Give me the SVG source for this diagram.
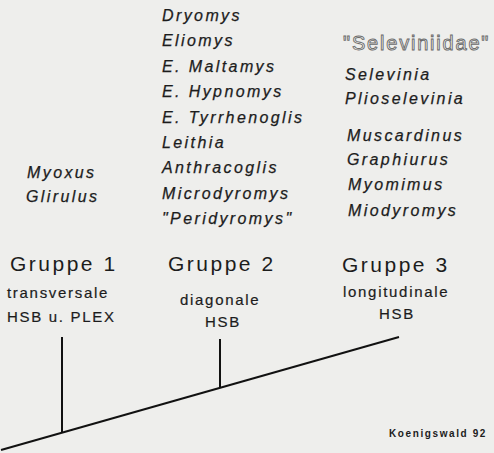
<svg xmlns="http://www.w3.org/2000/svg" width="494" height="453" viewBox="0 0 494 453">
<style>
text{font-family:"Liberation Sans",Arial,sans-serif;fill:#1c1c1c}
.tx{font-size:16px;font-style:italic;letter-spacing:2.4px;stroke:#1c1c1c;stroke-width:0.25px}
.gr{font-size:21px;letter-spacing:2.5px}
.sub{font-size:15px;letter-spacing:1.7px;stroke:#1c1c1c;stroke-width:0.2px}
.out{font-size:20px;letter-spacing:1.8px;fill:#f4f4f2;stroke:#6a6a6a;stroke-width:0.9px}
.cr{font-size:10px;font-weight:bold;letter-spacing:1.6px}
.ln{stroke:#111;stroke-width:2;fill:none;stroke-linecap:butt}
</style>
<rect width="494" height="453" fill="#eeeeec"/>
<g id="connectors">
<line class="ln" x1="1" y1="450" x2="399" y2="337"/>
<line class="ln" x1="62" y1="337" x2="62" y2="433"/>
<line class="ln" x1="220" y1="339" x2="220" y2="388"/>
</g>
<g id="taxa1">
<text class="tx" x="27" y="178">Myoxus</text>
<text class="tx" x="26" y="202">Glirulus</text>
</g>
<g id="taxa2">
<text class="tx" x="162" y="21">Dryomys</text>
<text class="tx" x="162" y="46.4">Eliomys</text>
<text class="tx" x="162" y="71.8">E. Maltamys</text>
<text class="tx" x="162" y="97.2">E. Hypnomys</text>
<text class="tx" x="162" y="122.6">E. Tyrrhenoglis</text>
<text class="tx" x="162" y="148">Leithia</text>
<text class="tx" x="162" y="173.4">Anthracoglis</text>
<text class="tx" x="162" y="198.8">Microdyromys</text>
<text class="tx" x="162" y="224">"Peridyromys"</text>
</g>
<g id="taxa3">
<text class="out" x="343" y="50">"Seleviniidae"</text>
<text class="tx" x="345" y="80">Selevinia</text>
<text class="tx" x="345" y="104">Plioselevinia</text>
<text class="tx" x="347" y="141">Muscardinus</text>
<text class="tx" x="347" y="165">Graphiurus</text>
<text class="tx" x="348" y="190">Myomimus</text>
<text class="tx" x="348" y="216">Miodyromys</text>
</g>
<g id="gruppe1">
<text class="gr" x="10" y="271">Gruppe 1</text>
<text class="sub" x="7" y="298">transversale</text>
<text class="sub" x="7" y="322">HSB u. PLEX</text>
</g>
<g id="gruppe2">
<text class="gr" x="168" y="271">Gruppe 2</text>
<text class="sub" x="180" y="305">diagonale</text>
<text class="sub" x="205" y="327">HSB</text>
</g>
<g id="gruppe3">
<text class="gr" x="342" y="272">Gruppe 3</text>
<text class="sub" x="343" y="297">longitudinale</text>
<text class="sub" x="379" y="319">HSB</text>
</g>
<g id="credit">
<text class="cr" x="389" y="437">Koenigswald 92</text>
</g>
</svg>
